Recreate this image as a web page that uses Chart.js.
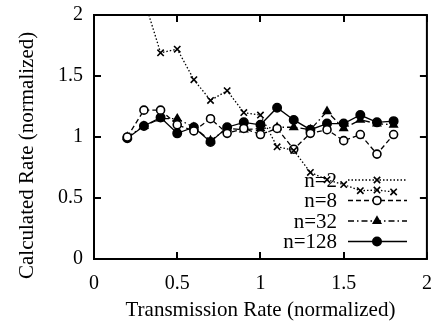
<!DOCTYPE html>
<html>
<head>
<meta charset="utf-8">
<script src="https://cdn.jsdelivr.net/npm/chart.js@4.4.1/dist/chart.umd.min.js"></script>
<style>
  html, body { margin: 0; padding: 0; background: #fff; }
  #wrap { width: 433px; height: 323px; }
</style>
</head>
<body>
<div id="wrap"><canvas id="chart"></canvas></div>
<script>
// Transmission rate (normalized), x positions of the samples
var rates = [0.2, 0.3, 0.4, 0.5, 0.6, 0.7, 0.8, 0.9, 1.0, 1.1, 1.2, 1.3, 1.4, 1.5, 1.6, 1.7, 1.8];

// Calculated rate (normalized), one array per window size
var n2   = [2.9, 2.13, 1.69, 1.72, 1.47, 1.30, 1.38, 1.20, 1.18, 0.92, 0.89, 0.71, 0.65, 0.61, 0.56, 0.565, 0.55];
var n8   = [1.00, 1.22, 1.22, 1.10, 1.05, 1.15, 1.03, 1.07, 1.02, 1.07, 0.90, 1.03, 1.06, 0.97, 1.02, 0.86, 1.02];
var n32  = [1.00, 1.09, 1.15, 1.15, 1.08, 0.97, 1.07, 1.06, 1.07, 1.08, 1.08, 1.06, 1.21, 1.07, 1.14, 1.11, 1.10];
var n128 = [0.99, 1.09, 1.16, 1.03, 1.08, 0.96, 1.08, 1.12, 1.10, 1.24, 1.14, 1.06, 1.11, 1.11, 1.18, 1.12, 1.13];

var seriesNames = ['n=2', 'n=8', 'n=32', 'n=128'];
var xTicks = [0, 0.5, 1, 1.5, 2];
var yTicks = [0, 0.5, 1, 1.5, 2];

var SERIF = "'Liberation Serif', 'Times New Roman', serif";

function pairs(ys) {
  return rates.map(function (x, i) { return { x: x, y: ys[i] }; });
}

function series(label, ys, dash, style, fill, radius) {
  return {
    label: label,
    data: pairs(ys),
    borderColor: '#000',
    borderWidth: 1.3,
    borderDash: dash,
    pointStyle: style,
    pointRadius: radius,
    pointBorderWidth: 1.6,
    pointBorderColor: '#000',
    pointBackgroundColor: fill,
    tension: 0,
    fill: false
  };
}

// inward ticks on all four sides plus the frame
var frameTicks = {
  id: 'frameTicks',
  beforeDatasetsDraw: function (chart) {
    var a = chart.chartArea, ctx = chart.ctx;
    var xs = chart.scales.x, ys = chart.scales.y;
    ctx.save();
    ctx.strokeStyle = '#000';
    ctx.lineWidth = 2;
    ctx.strokeRect(a.left, a.top, a.right - a.left, a.bottom - a.top);
    ctx.beginPath();
    xTicks.forEach(function (v) {
      var px = Math.round(xs.getPixelForValue(v));
      ctx.moveTo(px, a.bottom); ctx.lineTo(px, a.bottom - 7);
      ctx.moveTo(px, a.top); ctx.lineTo(px, a.top + 7);
    });
    yTicks.forEach(function (v) {
      var py = Math.round(ys.getPixelForValue(v));
      ctx.moveTo(a.left, py); ctx.lineTo(a.left + 7, py);
      ctx.moveTo(a.right, py); ctx.lineTo(a.right - 7, py);
    });
    ctx.stroke();
    ctx.restore();
  }
};

// legend in the lower right: label text, then a sample of the line with its marker
var sideLegend = {
  id: 'sideLegend',
  afterDraw: function (chart) {
    var ctx = chart.ctx;
    var textRight = 337, lineL = 348, lineR = 407, mid = 377;
    var y0 = 180, step = 20.5;
    ctx.save();
    chart.data.datasets.forEach(function (ds, i) {
      var y = y0 + i * step;
      ctx.fillStyle = '#000';
      ctx.font = '21px ' + SERIF;
      ctx.textAlign = 'right';
      ctx.textBaseline = 'middle';
      ctx.fillText(ds.label, textRight, y + 1);
      ctx.strokeStyle = '#000';
      ctx.lineWidth = ds.borderWidth;
      ctx.setLineDash(ds.borderDash);
      ctx.beginPath();
      ctx.moveTo(lineL, y); ctx.lineTo(lineR, y);
      ctx.stroke();
      ctx.setLineDash([]);
      ctx.lineWidth = ds.pointBorderWidth;
      ctx.fillStyle = ds.pointBackgroundColor;
      Chart.helpers.drawPoint(ctx, {
        pointStyle: ds.pointStyle,
        radius: ds.pointRadius,
        rotation: 0,
        borderWidth: ds.pointBorderWidth
      }, mid, y);
    });
    ctx.restore();
  }
};

function noPad(scale) {
  scale.paddingLeft = 0; scale.paddingRight = 0;
  scale.paddingTop = 0; scale.paddingBottom = 0;
}

function plainNumber(v) { return String(v); }

new Chart(document.getElementById('chart'), {
  type: 'line',
  data: {
    datasets: [
      series(seriesNames[0], n2, [1.5, 2], 'crossRot', '#000', 4.5),
      series(seriesNames[1], n8, [5, 3], 'circle', '#fff', 4),
      series(seriesNames[2], n32, [6, 3, 1.5, 3], 'triangle', '#000', 4.2),
      series(seriesNames[3], n128, [], 'circle', '#000', 4.2)
    ]
  },
  options: {
    responsive: true,
    maintainAspectRatio: false,
    animation: false,
    layout: { padding: { top: 15, right: 2, left: 0, bottom: 0 } },
    plugins: {
      legend: { display: false },
      tooltip: { enabled: false }
    },
    scales: {
      x: {
        type: 'linear',
        min: 0,
        max: 2,
        afterBuildTicks: function (s) { s.ticks = xTicks.map(function (v) { return { value: v }; }); },
        ticks: { color: '#000', font: { family: SERIF, size: 20 }, padding: 13, maxRotation: 0, callback: plainNumber },
        grid: { display: false, drawTicks: false },
        border: { display: false },
        title: {
          display: true,
          text: 'Transmission Rate (normalized)',
          color: '#000',
          font: { family: SERIF, size: 21 },
          padding: { top: 0, bottom: 0 }
        },
        afterFit: function (s) { s.height = 64; noPad(s); }
      },
      y: {
        type: 'linear',
        min: 0,
        max: 2,
        afterBuildTicks: function (s) { s.ticks = yTicks.map(function (v) { return { value: v }; }); },
        ticks: { color: '#000', font: { family: SERIF, size: 20 }, padding: 11, callback: plainNumber },
        grid: { display: false, drawTicks: false },
        border: { display: false },
        title: {
          display: true,
          text: 'Calculated Rate (normalized)\u00a0\u00a0\u00a0\u00a0\u00a0\u00a0\u00a0',
          color: '#000',
          font: { family: SERIF, size: 21 },
          padding: { top: 15, bottom: 0 }
        },
        afterFit: function (s) { s.width = 94; noPad(s); }
      }
    }
  },
  plugins: [frameTicks, sideLegend]
});
</script>
</body>
</html>
